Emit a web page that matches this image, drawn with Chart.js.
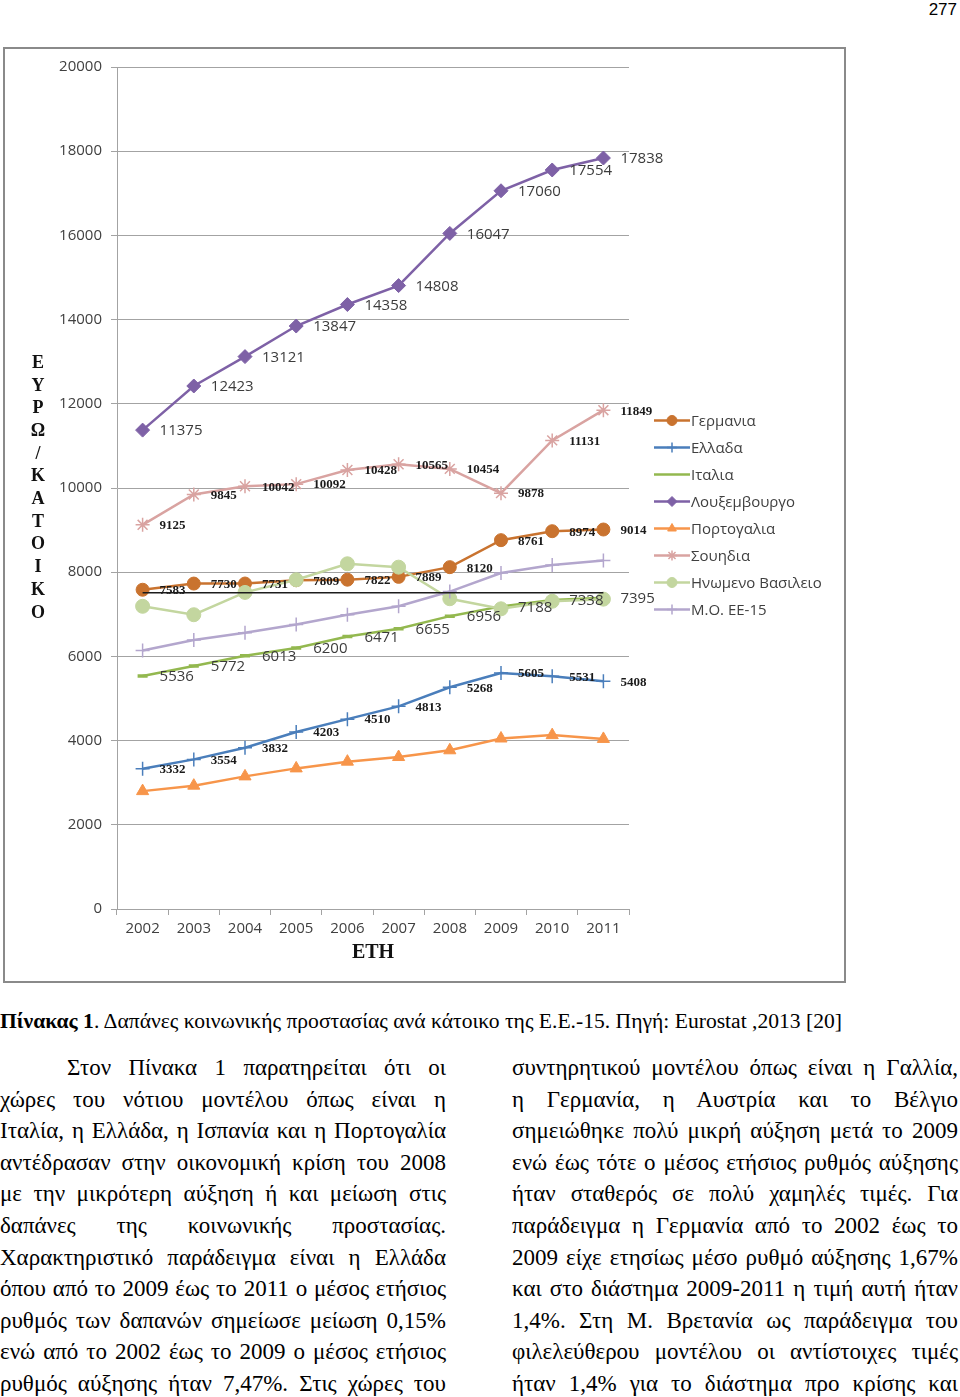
<!DOCTYPE html>
<html lang="el">
<head>
<meta charset="utf-8">
<script src="https://cdn.jsdelivr.net/npm/chart.js@4.4.1/dist/chart.umd.min.js"></script>
<style>
  html, body { margin: 0; padding: 0; background: #fff; }
  body { width: 960px; height: 1397px; position: relative; overflow: hidden; font-family: 'Liberation Serif', serif; color: #000; }
  #pageno { position: absolute; right: 3px; top: 0; font: 17px 'Liberation Sans Narrow', 'Liberation Sans', sans-serif; line-height: 20px; }
  #frame { position: absolute; left: 3px; top: 47px; width: 839px; height: 932px; border: 2px solid #8a8a8a; }
  #frame canvas { display: block; }
  #caption { position: absolute; left: 0; top: 1008px; font-size: 21.6px; line-height: 26px; white-space: nowrap; }
  .col { position: absolute; top: 1052px; width: 446px; font-size: 23px; line-height: 31.6px; }
  .col div { text-align: justify; text-align-last: justify; white-space: nowrap; overflow: visible; }
</style>
</head>
<body>
<div id="pageno">277</div>
<div id="frame"><canvas id="chart" width="839" height="932"></canvas></div>
<div id="caption"><b>Πίνακας 1</b>. Δαπάνες κοινωνικής προστασίας ανά κάτοικο της Ε.Ε.-15. Πηγή: Eurostat ,2013 [20]</div>
<div class="col" style="left:0">
  <div style="padding-left:67px">Στον Πίνακα 1 παρατηρείται ότι οι</div>
  <div>χώρες του νότιου μοντέλου όπως είναι η</div>
  <div>Ιταλία, η Ελλάδα, η Ισπανία και η Πορτογαλία</div>
  <div>αντέδρασαν στην οικονομική κρίση του 2008</div>
  <div>με την μικρότερη αύξηση ή και μείωση στις</div>
  <div>δαπάνες της κοινωνικής προστασίας.</div>
  <div>Χαρακτηριστικό παράδειγμα είναι η Ελλάδα</div>
  <div>όπου από το 2009 έως το 2011 ο μέσος ετήσιος</div>
  <div>ρυθμός των δαπανών σημείωσε μείωση 0,15%</div>
  <div>ενώ από το 2002 έως το 2009 ο μέσος ετήσιος</div>
  <div>ρυθμός αύξησης ήταν 7,47%. Στις χώρες του</div>
</div>
<div class="col" style="left:512px">
  <div>συντηρητικού μοντέλου όπως είναι η Γαλλία,</div>
  <div>η Γερμανία, η Αυστρία και το Βέλγιο</div>
  <div>σημειώθηκε πολύ μικρή αύξηση μετά το 2009</div>
  <div>ενώ έως τότε ο μέσος ετήσιος ρυθμός αύξησης</div>
  <div>ήταν σταθερός σε πολύ χαμηλές τιμές. Για</div>
  <div>παράδειγμα η Γερμανία από το 2002 έως το</div>
  <div>2009 είχε ετησίως μέσο ρυθμό αύξησης 1,67%</div>
  <div>και στο διάστημα 2009-2011 η τιμή αυτή ήταν</div>
  <div>1,4%. Στη Μ. Βρετανία ως παράδειγμα του</div>
  <div>φιλελεύθερου μοντέλου οι αντίστοιχες τιμές</div>
  <div>ήταν 1,4% για το διάστημα προ κρίσης και</div>
</div>
<script>
  'use strict';

  // --- data ---
  const years      = ['2002', '2003', '2004', '2005', '2006', '2007', '2008', '2009', '2010', '2011'];
  const germany    = [7583, 7730, 7731, 7809, 7822, 7889, 8120, 8761, 8974, 9014];
  const greece     = [3332, 3554, 3832, 4203, 4510, 4813, 5268, 5605, 5531, 5408];
  const italy      = [5536, 5772, 6013, 6200, 6471, 6655, 6956, 7188, 7338, 7395];
  const luxembourg = [11375, 12423, 13121, 13847, 14358, 14808, 16047, 17060, 17554, 17838];
  const portugal   = [2800, 2930, 3150, 3340, 3500, 3610, 3770, 4050, 4130, 4040];
  const sweden     = [9125, 9845, 10042, 10092, 10428, 10565, 10454, 9878, 11131, 11849];
  const uk         = [7190, 6990, 7520, 7820, 8200, 8120, 7370, 7130, 7310, 7360];
  const eu15       = [6140, 6390, 6560, 6760, 6990, 7190, 7540, 7980, 8170, 8280];
  const flatLine   = [7510, 7510, 7510, 7510, 7510, 7510, 7510, 7510, 7510, 7510];
  const yTicks     = [0, 2000, 4000, 6000, 8000, 10000, 12000, 14000, 16000, 18000, 20000];
  const yTitle     = ['Ε', 'Υ', 'Ρ', 'Ω', '/', 'Κ', 'Α', 'Τ', 'Ο', 'Ι', 'Κ', 'Ο'];
  const xTitle     = 'ΕΤΗ';

  const SANS  = "'Open Sans', 'Liberation Sans', sans-serif";
  const SERIF = "'Liberation Serif', 'Times New Roman', serif";
  const AXIS_TEXT = '#404040';
  const GRID = '#a3a3a3';

  // labelKind: 'sans' = plain grey labels, 'serif' = small bold labels, null = none
  const series = [
    { label: 'Γερμανια',         data: germany,    color: '#C9732F', point: 'circle',   radius: 6.5, pw: 1,   labelKind: 'serif' },
    { label: 'Ελλαδα',           data: greece,     color: '#4A7EBB', point: 'cross',    radius: 7,   pw: 1.5, labelKind: 'serif' },
    { label: 'Ιταλια',           data: italy,      color: '#93B84F', point: 'line',     radius: 5,   pw: 3.5, labelKind: 'sans'  },
    { label: 'Λουξεμβουργο',     data: luxembourg, color: '#7E61A6', point: 'rectRot', radius: 7,   pw: 1,   labelKind: 'sans'  },
    { label: 'Πορτογαλια',       data: portugal,   color: '#F7954A', point: 'triangle', radius: 7,   pw: 1,   labelKind: null    },
    { label: 'Σουηδια',          data: sweden,     color: '#D9A3A1', point: 'star',     radius: 7,   pw: 1.5, labelKind: 'serif' },
    { label: 'Ηνωμενο Βασιλειο', data: uk,         color: '#C3D69F', point: 'circle',   radius: 7,   pw: 1,   labelKind: null    },
    { label: 'Μ.Ο. ΕΕ-15',       data: eu15,       color: '#B3A6CD', point: 'cross',    radius: 7,   pw: 1.5, labelKind: null    },
  ];

  function drawMarker(ctx, s, x, y, r) {
    if (Chart.helpers && Chart.helpers.drawPoint) {
      ctx.save();
      ctx.fillStyle = s.color;
      ctx.strokeStyle = s.color;
      ctx.lineWidth = s.pw;
      Chart.helpers.drawPoint(ctx, { pointStyle: s.point, radius: r, rotation: 0, borderWidth: s.pw }, x, y);
      ctx.restore();
    }
  }

  const valueLabels = {
    id: 'valueLabels',
    afterDatasetsDraw(chart) {
      const ctx = chart.ctx;
      series.forEach((s, i) => {
        if (!s.labelKind) return;
        const meta = chart.getDatasetMeta(i);
        ctx.save();
        ctx.font      = s.labelKind === 'sans' ? `15px ${SANS}` : `bold 13px ${SERIF}`;
        ctx.fillStyle = s.labelKind === 'sans' ? '#3c3c3c' : '#1a1a1a';
        ctx.textAlign = 'left';
        ctx.textBaseline = 'middle';
        meta.data.forEach((pt, j) => ctx.fillText(String(s.data[j]), pt.x + 17, pt.y + 1));
        ctx.restore();
      });
    }
  };

  const sideLegend = {
    id: 'sideLegend',
    afterDraw(chart) {
      const ctx = chart.ctx;
      const x0 = chart.chartArea.right + 25;
      const midY = chart.height / 2;
      ctx.save();
      ctx.font = `15px ${SANS}`;
      ctx.textAlign = 'left';
      ctx.textBaseline = 'middle';
      series.forEach((s, i) => {
        const y = midY + (i - (series.length - 1) / 2) * 27;
        ctx.strokeStyle = s.color;
        ctx.lineWidth = 2.5;
        ctx.beginPath();
        ctx.moveTo(x0, y);
        ctx.lineTo(x0 + 36, y);
        ctx.stroke();
        drawMarker(ctx, s, x0 + 18, y, s.point === 'line' ? 0 : 5);
        ctx.fillStyle = AXIS_TEXT;
        ctx.fillText(s.label, x0 + 37, y + 1);
      });
      ctx.restore();
    }
  };

  const stackedYTitle = {
    id: 'stackedYTitle',
    afterDraw(chart) {
      const ctx = chart.ctx;
      const { top, bottom } = chart.chartArea;
      const step = 22.7;
      const y0 = (top + bottom) / 2 - step * (yTitle.length - 1) / 2;
      ctx.save();
      ctx.font = `bold 18px ${SERIF}`;
      ctx.fillStyle = '#111';
      ctx.textAlign = 'center';
      ctx.textBaseline = 'middle';
      yTitle.forEach((ch, i) => ctx.fillText(ch, 33, y0 + i * step));
      ctx.restore();
    }
  };

  Chart.defaults.font.family = SANS;

  const datasets = series.map((s, i) => ({
    label: s.label,
    data: s.data,
    borderColor: s.color,
    backgroundColor: s.color,
    borderWidth: 2.5,
    tension: 0,
    pointStyle: s.point,
    pointRadius: s.radius,
    pointBorderWidth: s.pw,
    pointBorderColor: s.color,
    pointBackgroundColor: s.color,
    order: series.length - i,
  }));
  datasets.push({
    label: 'line',
    data: flatLine,
    borderColor: '#1c1c1c',
    borderWidth: 1.5,
    pointRadius: 0,
    order: 0,
  });

  new Chart(document.getElementById('chart').getContext('2d'), {
    type: 'line',
    data: { labels: years, datasets },
    plugins: [valueLabels, sideLegend, stackedYTitle],
    options: {
      responsive: false,
      animation: false,
      events: [],
      layout: { padding: { top: 16, right: 215, bottom: 0, left: 0 } },
      plugins: { legend: { display: false }, tooltip: { enabled: false } },
      scales: {
        x: {
          type: 'category',
          offset: true,
          grid: { offset: true, drawOnChartArea: false, drawTicks: true, tickLength: 6, color: GRID },
          border: { display: true, color: GRID, width: 1 },
          ticks: { color: AXIS_TEXT, font: { size: 15 }, padding: 5, maxRotation: 0, autoSkip: false },
          title: { display: true, text: xTitle, color: '#111', font: { family: SERIF, size: 20, weight: 'bold' }, padding: { top: 0, bottom: 16 } },
          afterFit: (s) => { s.height = 72; }
        },
        y: {
          min: 0,
          max: 20000,
          afterBuildTicks: (s) => { s.ticks = yTicks.map(v => ({ value: v })); },
          grid: { color: GRID, lineWidth: 1, tickLength: 6 },
          border: { display: true, color: GRID, width: 1 },
          ticks: { color: AXIS_TEXT, font: { size: 15 }, padding: 9, callback: (v) => String(v) },
          afterFit: (s) => { s.width = 112; }
        }
      }
    }
  });

  // shrink any body line that would overflow its column
  document.querySelectorAll('.col div').forEach((el) => {
    let size = 23;
    while (el.scrollWidth > el.clientWidth + 1 && size > 18) {
      size -= 0.25;
      el.style.fontSize = size + 'px';
    }
  });
</script>
</body>
</html>
